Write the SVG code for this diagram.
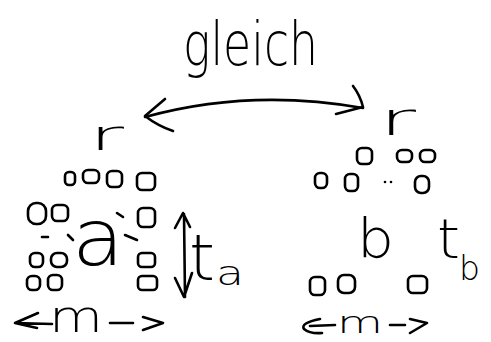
<svg xmlns="http://www.w3.org/2000/svg" width="491" height="342" viewBox="0 0 491 342">
<style>
.s{fill:none;stroke:#000;stroke-width:2.6;stroke-linecap:round;stroke-linejoin:round}
.t{font-family:"DejaVu Sans","Liberation Sans",sans-serif;font-weight:200;fill:#000}
</style>
<rect width="491" height="342" fill="#fff"/>
<g id="title"><text class="t" x="183" y="65" font-size="60" textLength="135" lengthAdjust="spacingAndGlyphs">gleich</text></g>
<g id="connectors">
<path class="s" d="M145,117 Q250,88 363,108"/>
<path class="s" d="M165,99 L145,116 Q158,126 173,131"/>
<path class="s" d="M353,86 Q360,95 363,107 L336,114"/>
<path class="s" d="M184,214 L185,297 M175,228 L183,213 L190,227 M175,278 L184,297 L192,273"/>
<path class="s" d="M38,313 L15,323 L37,328 M15,323 L52,324 M110,323 L133,323 M143,317 L163,323 L143,330"/>
<path class="s" d="M320,319 Q300,323 304,329 Q310,334 322,333 M310,326 L335,325 M390,325 L405,325 M410,319 L427,323 L410,333"/>
</g>
<g id="left">
<text class="t" x="89" y="150" font-size="42" textLength="35" lengthAdjust="spacingAndGlyphs">r</text>
<g class="s">
<rect x="65" y="172" width="10" height="13" rx="4"/>
<rect x="83" y="170" width="16" height="13" rx="5"/>
<rect x="107" y="171" width="15" height="16" rx="5"/>
<rect x="137" y="173" width="18" height="17" rx="5"/>
<rect x="28" y="203" width="18" height="21" rx="8"/>
<rect x="52" y="205" width="16" height="16" rx="5"/>
<rect x="138" y="208" width="17" height="19" rx="5"/>
<rect x="30" y="253" width="13" height="14" rx="5"/>
<rect x="51" y="253" width="16" height="14" rx="6"/>
<rect x="138" y="253" width="17" height="14" rx="4"/>
<rect x="27" y="276" width="13" height="14" rx="5"/>
<rect x="48" y="275" width="14" height="15" rx="5"/>
<rect x="138" y="276" width="19" height="14" rx="4"/>
<path d="M117,213 L123,217 M42,237 L48,237 M68,235 L73,240 M125,235 L137,240"/>
</g>
<text class="t" x="72" y="265" font-size="78" textLength="52" lengthAdjust="spacingAndGlyphs">a</text>
<text class="t" x="189" y="280" font-size="64" textLength="26" lengthAdjust="spacingAndGlyphs">t</text>
<text class="t" x="216" y="285" font-size="34" textLength="28" lengthAdjust="spacingAndGlyphs">a</text>
<text class="t" x="49" y="332" font-size="44" textLength="54" lengthAdjust="spacingAndGlyphs">m</text>
</g>
<g id="right">
<text class="t" x="379" y="135" font-size="46" textLength="37" lengthAdjust="spacingAndGlyphs">r</text>
<g class="s">
<rect x="357" y="148" width="15" height="16" rx="5"/>
<rect x="397" y="150" width="15" height="12" rx="5"/>
<rect x="420" y="150" width="15" height="12" rx="5"/>
<rect x="315" y="173" width="12" height="15" rx="5"/>
<rect x="345" y="174" width="13" height="17" rx="5"/>
<rect x="415" y="176" width="14" height="17" rx="6"/>
<rect x="310" y="277" width="15" height="18" rx="5"/>
<rect x="338" y="275" width="17" height="18" rx="6"/>
<rect x="408" y="276" width="19" height="17" rx="5"/>
</g>
<circle cx="385" cy="182" r="1.3"/>
<circle cx="391" cy="182" r="1.3"/>
<text class="t" x="357" y="257" font-size="53" textLength="37" lengthAdjust="spacingAndGlyphs">b</text>
<text class="t" x="437" y="258" font-size="56" textLength="23" lengthAdjust="spacingAndGlyphs">t</text>
<text class="t" x="459" y="280" font-size="33" textLength="21" lengthAdjust="spacingAndGlyphs">b</text>
<text class="t" x="337" y="333" font-size="30" textLength="46" lengthAdjust="spacingAndGlyphs">m</text>
</g>
</svg>
